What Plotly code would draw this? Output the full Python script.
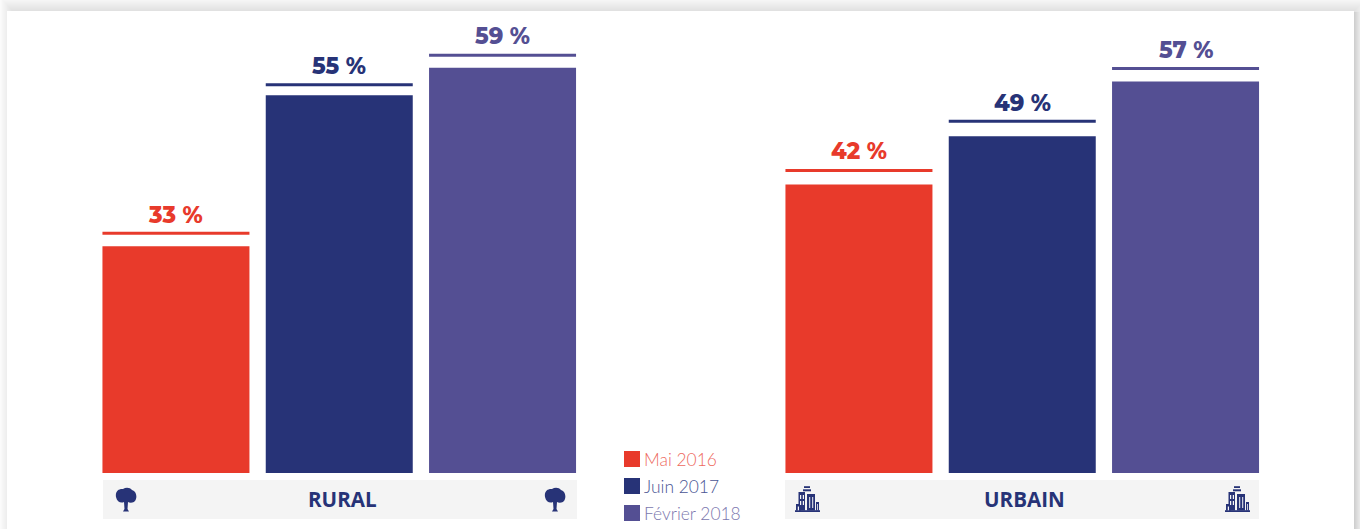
import plotly.graph_objects as go

# Survey results per period, by area type
periods = ["Mai 2016", "Juin 2017", "Février 2018"]
rural_values = [33, 55, 59]
urbain_values = [42, 49, 57]
panel_names = ["RURAL", "URBAIN"]

RED, NAVY, PURPLE = "#e83a2b", "#273377", "#544f93"
bar_colors = [RED, NAVY, PURPLE]
legend_text_colors = ["#ee6a60", "#4a5594", "#7b77ae"]

W, H = 1360, 529
BASE_Y = 473          # pixel row of the zero line
PX_PER_UNIT = 6.87    # pixels per percentage point
BAND = 163.3          # pixels per category
BAR_GAP = 1 - 147 / BAND
DISPLAY_FONT = "Montserrat, Lato, sans-serif"
BAND_FILL = "#f4f4f4"


def px(x):
    return x / W


def py(y):
    return 1 - y / H


def rect(x0, y0, x1, y1, fill, opacity=1.0, layer="below"):
    return dict(type="rect", xref="paper", yref="paper",
                x0=px(x0), x1=px(x1), y0=py(y0), y1=py(y1),
                fillcolor=fill, opacity=opacity, layer=layer, line_width=0)


def path(points, fill, layer="above"):
    """Closed polygon/curve given as SVG commands in pixel coordinates."""
    d = ""
    for cmd, *coords in points:
        d += cmd
        d += " ".join(f"{px(coords[i]):.5f},{py(coords[i + 1]):.5f}"
                      for i in range(0, len(coords), 2)) + " "
    return dict(type="path", xref="paper", yref="paper", path=d + "Z",
                fillcolor=fill, line_width=0, layer=layer)


def tree_icon(cx):
    """Tree pictogram centred on column cx."""
    crown = [("M", cx - 10, 497), ("C", cx - 11, 491, cx - 7, 488.5, cx - 3, 489),
             ("C", cx, 487, cx + 4, 487.5, cx + 6, 490),
             ("C", cx + 10, 491, cx + 11, 496, cx + 10, 499),
             ("C", cx + 9, 503, cx + 4, 503.5, cx + 2, 502),
             ("L", cx + 1.5, 509), ("L", cx + 3, 511.5), ("L", cx - 3, 511.5),
             ("L", cx - 1.5, 509), ("L", cx - 2, 502),
             ("C", cx - 5, 503.5, cx - 9, 502, cx - 10, 497)]
    return [path(crown, NAVY)]


def building_icon(x):
    """City block pictogram whose left edge is at column x."""
    parts = [rect(x, 510.2, x + 25, 512, NAVY, layer="above"),
             rect(x + 1, 504, x + 6, 510.5, NAVY, layer="above"),
             rect(x + 3.5, 492, x + 10, 510.5, NAVY, layer="above"),
             rect(x + 12, 494, x + 20, 510.5, NAVY, layer="above"),
             rect(x + 8, 489.3, x + 16, 491.3, NAVY, layer="above"),
             rect(x + 9, 486.2, x + 15, 488, NAVY, layer="above"),
             rect(x + 21, 502, x + 24, 510.5, NAVY, layer="above")]
    # window openings
    for wx, wy, ww, wh in [(5, 495, 1.2, 4), (7.8, 495, 1.2, 4), (5, 501, 1.2, 4),
                           (7.8, 501, 1.2, 4), (2.8, 506.5, 1.2, 3.8),
                           (14.2, 497, 1, 11), (17.2, 497, 1, 11), (22.2, 504, 0.8, 6)]:
        parts.append(rect(x + wx, wy, x + wx + ww, wy + wh, BAND_FILL, layer="above"))
    return parts


shapes = []

# Soft drop shadow around the white sheet, built from nested translucent frames
for r in range(0, 15):
    shapes.append(rect(11.5 - r * 0.9, 10 - r, 1355 + r * 1.1, H + 20,
                       "#000000", opacity=0.0095))
for k in range(6):
    shapes.append(rect(1340, 12, 1355 + k, H + 20, "#000000", opacity=0.012))
shapes.append(rect(7, 11, 1354, H + 5, "#ffffff"))

fig = go.Figure()

panels = [
    dict(name=panel_names[0], values=rural_values, axis="x", axis_key="xaxis",
         left=94.3, band=(103, 577), rule_gap=[13, 10.5, 12.5], label_gap=[31, 29.5, 31.5]),
    dict(name=panel_names[1], values=urbain_values, axis="x2", axis_key="xaxis2",
         left=777.3, band=(785, 1259), rule_gap=[14, 15, 13], label_gap=[33.5, 33, 31.5]),
]

annotations = []
for panel in panels:
    fig.add_trace(go.Bar(
        x=periods, y=panel["values"], xaxis=panel["axis"], yaxis="y",
        marker=dict(color=bar_colors, line_width=0), showlegend=False,
        hovertemplate="%{x}: %{y} %<extra></extra>",
    ))
    half = (1 - BAR_GAP) / 2
    for i, value in enumerate(panel["values"]):
        rule_y = value + panel["rule_gap"][i] / PX_PER_UNIT
        shapes.append(dict(type="line", xref=panel["axis"], yref="y",
                           x0=i - half, x1=i + half, y0=rule_y, y1=rule_y,
                           line=dict(color=bar_colors[i], width=3), layer="above"))
        annotations.append(dict(
            xref=panel["axis"], yref="y", x=i,
            y=value + panel["label_gap"][i] / PX_PER_UNIT,
            text=f"{value} %", showarrow=False, xanchor="center", yanchor="middle",
            font=dict(family=DISPLAY_FONT, size=22.5, color=bar_colors[i], weight=800),
        ))
    x0, x1 = panel["band"]
    shapes.append(rect(x0, 480, x1, 519, BAND_FILL))
    annotations.append(dict(
        xref="paper", yref="paper", x=px((x0 + x1) / 2 + 2.8), y=py(498.7),
        text=panel["name"], showarrow=False, xanchor="center", yanchor="middle",
        font=dict(family="Open Sans", size=20.6, color=NAVY, weight=700),
    ))

shapes += tree_icon(126) + tree_icon(555)
shapes += building_icon(795) + building_icon(1225)

# Colour key between the two groups
for i, period in enumerate(periods):
    center = 459 + i * 27
    shapes.append(rect(624, center - 8, 640, center + 8, bar_colors[i]))
    annotations.append(dict(
        xref="paper", yref="paper", x=px(641.7), y=py(center + 0.5),
        text=period, showarrow=False, xanchor="left", yanchor="middle",
        font=dict(family="Lato", size=17.4, color=legend_text_colors[i], weight=300),
    ))

blank_axis = dict(visible=False, fixedrange=True, type="category",
                  categoryorder="array", categoryarray=periods, range=[-0.5, 2.5])
layout_axes = {}
for panel in panels:
    layout_axes[panel["axis_key"]] = dict(
        blank_axis, domain=[px(panel["left"]), px(panel["left"] + 3 * BAND)], anchor="y")

fig.update_layout(
    width=W, height=H,
    margin=dict(l=0, r=0, t=0, b=0),
    paper_bgcolor="#ffffff", plot_bgcolor="rgba(0,0,0,0)",
    bargap=BAR_GAP,
    yaxis=dict(visible=False, fixedrange=True, domain=[py(BASE_Y), 1],
               range=[0, BASE_Y / PX_PER_UNIT]),
    shapes=shapes, annotations=annotations, showlegend=False,
    **layout_axes,
)

fig.write_html("out.html", config={"displayModeBar": False})
